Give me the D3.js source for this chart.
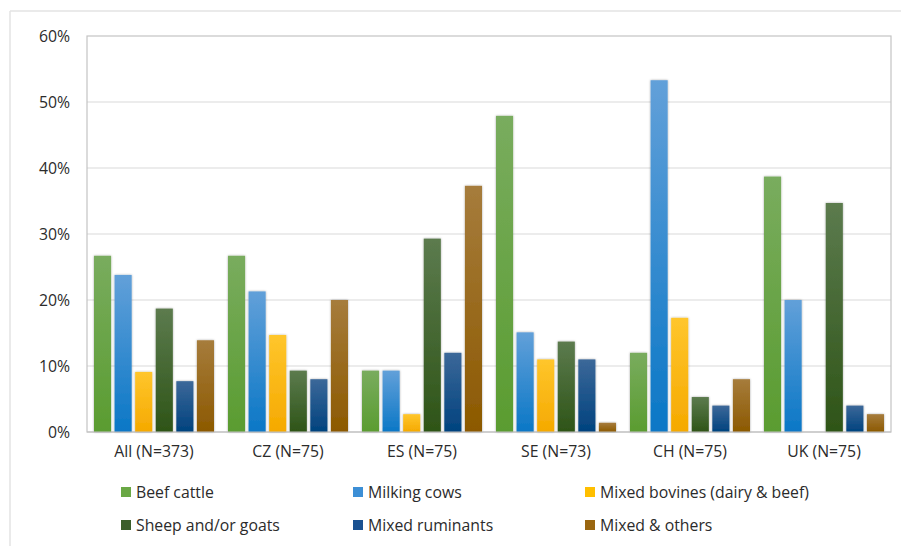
<!DOCTYPE html>
<html>
<head>
<meta charset="utf-8">
<script src="https://cdn.jsdelivr.net/npm/d3@7"></script>
<style>
  body { margin: 0; background: #fff; }
  text { font-family: "Open Sans", sans-serif; fill: #2b2b2b; }
</style>
</head>
<body>
<svg id="chart" width="901" height="546"></svg>
<script>
// categories and series
const groups = ["All (N=373)", "CZ (N=75)", "ES (N=75)", "SE (N=73)", "CH (N=75)", "UK (N=75)"];
const seriesNames = ["Beef cattle", "Milking cows", "Mixed bovines (dairy & beef)",
                     "Sheep and/or goats", "Mixed ruminants", "Mixed & others"];
const beefCattle      = [26.7, 26.7, 9.3, 47.9, 12.0, 38.7];
const milkingCows     = [23.8, 21.3, 9.3, 15.1, 53.3, 20.0];
const mixedBovines    = [9.1, 14.7, 2.7, 11.0, 17.3, 0];
const sheepGoats      = [18.7, 9.3, 29.3, 13.7, 5.3, 34.7];
const mixedRuminants  = [7.7, 8.0, 12.0, 11.0, 4.0, 4.0];
const mixedOthers     = [13.9, 20.0, 37.3, 1.4, 8.0, 2.7];
const yTicks = [0, 10, 20, 30, 40, 50, 60];

const allSeries = [beefCattle, milkingCows, mixedBovines, sheepGoats, mixedRuminants, mixedOthers];
// gradient colours top -> bottom, plus legend swatch
const colors = [
  { top: "#79ac5e", bottom: "#5a9c30", swatch: "#6aa845" },
  { top: "#62a0d9", bottom: "#0a77c6", swatch: "#3c8fd6" },
  { top: "#ffc62c", bottom: "#f5a900", swatch: "#ffbf00" },
  { top: "#5c7b4e", bottom: "#2e5417", swatch: "#3b5e2b" },
  { top: "#3c6899", bottom: "#00427e", swatch: "#1a5191" },
  { top: "#a67c3c", bottom: "#8c5900", swatch: "#9a6610" }
];

const svg = d3.select("#chart");
const margin = { left: 87, right: 10, top: 36, bottom: 114 };
const W = 901, H = 546;
const fontSize = "15.8px";

// outer frame lines
svg.append("line").attr("x1", 10).attr("x2", W).attr("y1", 11).attr("y2", 11)
  .attr("stroke", "#e3e3e3").attr("stroke-width", 1.5);
svg.append("line").attr("x1", 10).attr("x2", 10).attr("y1", 11).attr("y2", H)
  .attr("stroke", "#e3e3e3").attr("stroke-width", 1.5);

const defs = svg.append("defs");
colors.forEach((c, i) => {
  const g = defs.append("linearGradient").attr("id", "grad" + i)
    .attr("x1", 0).attr("x2", 0).attr("y1", 0).attr("y2", 1);
  g.append("stop").attr("offset", "0%").attr("stop-color", c.top);
  g.append("stop").attr("offset", "100%").attr("stop-color", c.bottom);
});
const shadow = defs.append("filter").attr("id", "shadow")
  .attr("x", "-30%").attr("y", "-10%").attr("width", "160%").attr("height", "120%");
shadow.append("feDropShadow").attr("dx", 0).attr("dy", 0).attr("stdDeviation", 1.2)
  .attr("flood-color", "#000").attr("flood-opacity", 0.35);

const x0 = d3.scaleBand().domain(groups).range([margin.left, W - margin.right]);
const x1 = d3.scaleBand().domain(d3.range(6)).range([7, x0.bandwidth() - 7]).paddingInner(0.17);
const y = d3.scaleLinear().domain([0, 60]).range([H - margin.bottom, margin.top]);

// gridlines
svg.append("g").selectAll("line").data(yTicks.slice(1, -1)).join("line")
  .attr("x1", margin.left).attr("x2", W - margin.right)
  .attr("y1", d => y(d)).attr("y2", d => y(d))
  .attr("stroke", "#d9d9d9").attr("stroke-width", 1.2);

// plot frame
svg.append("rect").attr("x", margin.left).attr("y", margin.top)
  .attr("width", W - margin.right - margin.left).attr("height", y(0) - margin.top)
  .attr("fill", "none").attr("stroke", "#c4c4c4").attr("stroke-width", 1.2);

// bars
const gGroups = svg.append("g").selectAll("g").data(groups).join("g")
  .attr("transform", d => `translate(${x0(d)},0)`);
gGroups.selectAll("rect").data((g, gi) => allSeries.map((s, si) => ({ si, v: s[gi] })))
  .join("rect")
  .filter(d => d.v > 0)
  .attr("x", d => x1(d.si))
  .attr("width", x1.bandwidth())
  .attr("y", d => y(d.v))
  .attr("height", d => y(0) - y(d.v))
  .attr("fill", d => `url(#grad${d.si})`)
  .attr("filter", "url(#shadow)");

// axis line at 0
svg.append("line").attr("x1", margin.left).attr("x2", W - margin.right)
  .attr("y1", y(0)).attr("y2", y(0)).attr("stroke", "#c4c4c4").attr("stroke-width", 1.2);

// y axis labels
const yAxis = d3.axisLeft(y).tickValues(yTicks).tickSize(0).tickPadding(17)
  .tickFormat(d => d + "%");
svg.append("g").attr("transform", `translate(${margin.left},0)`).call(yAxis)
  .call(g => g.select(".domain").remove())
  .selectAll("text").style("font-size", fontSize).style("font-family", "Open Sans, sans-serif").attr("fill", "#2b2b2b");

// x axis labels
const xAxis = d3.axisBottom(x0).tickSize(0).tickPadding(14);
svg.append("g").attr("transform", `translate(0,${y(0)})`).call(xAxis)
  .call(g => g.select(".domain").remove())
  .selectAll("text").style("font-size", fontSize).style("font-family", "Open Sans, sans-serif").attr("fill", "#2b2b2b");

// legend
const legendX = [121, 353, 585];
const legendY = [492, 525];
const legend = svg.append("g").selectAll("g").data(seriesNames).join("g")
  .attr("transform", (d, i) => `translate(${legendX[i % 3]},${legendY[Math.floor(i / 3)]})`);
legend.append("rect").attr("x", 0).attr("y", -5).attr("width", 10).attr("height", 10)
  .attr("fill", (d, i) => colors[i].swatch);
legend.append("text").attr("x", 15).attr("y", 0).attr("dy", "0.35em")
  .style("font-size", fontSize).text(d => d);
</script>
</body>
</html>
